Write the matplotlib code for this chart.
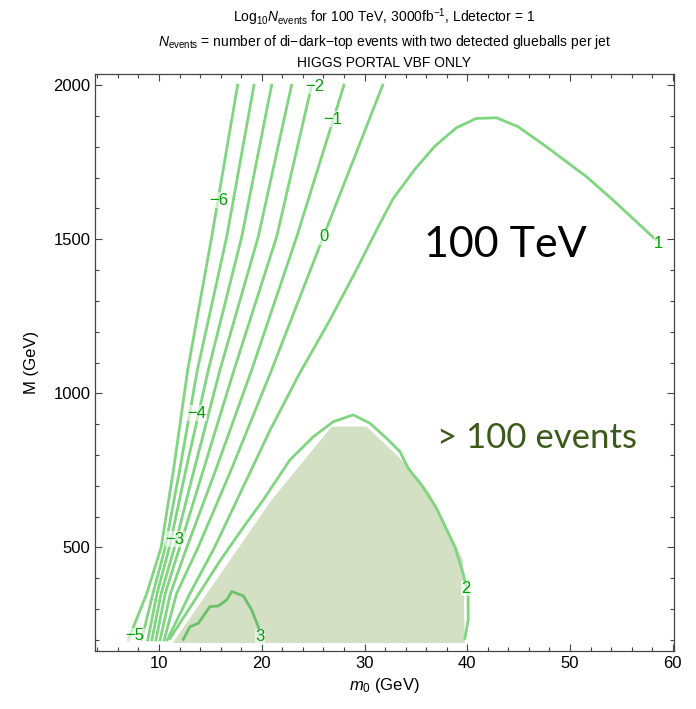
import numpy as np
import matplotlib
matplotlib.use('Agg')
import matplotlib.pyplot as plt
from matplotlib.ticker import MultipleLocator

plt.rcParams['font.family'] = ['Liberation Sans', 'DejaVu Sans']
plt.rcParams['mathtext.fontset'] = 'custom'
plt.rcParams['mathtext.rm'] = 'Liberation Sans'
plt.rcParams['mathtext.it'] = 'Liberation Sans:italic'

# fan of contour lines, sampled at common M levels
M_fan = [200, 350, 500, 750, 1076, 1508, 2000]
line_m6 = [7.0, 8.8, 10.2, 11.4, 12.79, 15.13, 17.65]
line_m5 = [8.3, 9.4, 10.6, 12.0, 13.73, 16.59, 19.24]
line_m4 = [8.9, 9.8, 11.0, 12.6, 14.80, 18.05, 20.96]
line_m3 = [9.3, 10.2, 11.5, 13.4, 15.93, 19.66, 22.90]
line_m2 = [9.7, 10.6, 12.0, 14.3, 17.30, 21.45, 24.86]
line_m1 = [10.1, 11.1, 12.7, 15.5, 19.02, 23.40, 28.00]
line_0 = [10.5, 11.7, 13.8, 17.0, 20.96, 25.99, 31.77]

line1_m0 = [10.8, 13.0, 15.4, 17.9, 20.8, 23.6, 26.5, 29.2, 31.5, 32.79, 34.9, 36.85,
            38.96, 40.9, 42.85, 44.95, 47.71, 51.6, 54.19, 58.4]
line1_M = [200, 350, 500, 676, 880, 1060, 1230, 1400, 1551, 1632, 1727, 1802,
           1862, 1892, 1894, 1865, 1800, 1703, 1627, 1497]

line2_m0 = [11.07, 13.5, 16.0, 18.3, 20.14, 22.74, 25.01, 26.96, 28.9, 30.53,
            32.15, 33.45, 34.25, 35.55, 37.01, 38.79, 39.6, 40.09, 40.09, 39.77]
line2_M = [205, 330, 460, 570, 654, 784, 859, 908, 930, 903,
           854, 811, 757, 703, 627, 502, 416, 340, 265, 205]

line3_m0 = [12.36, 13.02, 13.82, 14.96, 15.77, 16.59, 17.07, 18.2, 19.02, 19.66, 19.75]
line3_M = [202, 243, 254, 308, 310, 330, 357, 343, 297, 243, 215]

# > 100 events region
shade_m0 = [11.33, 20.96, 26.8, 30.2, 33.44, 36.36, 39.6, 39.77]
shade_M = [190, 654, 892, 892, 790, 676, 459, 190]

# contour labels
lab_text = ['\u22126', '\u22125', '\u22124', '\u22123', '\u22122', '\u22121', '0', '1', '2', '3']
lab_m0 = [15.77, 7.67, 13.67, 11.56, 25.17, 26.86, 26.08, 58.64, 39.86, 19.82]
lab_M = [1627, 213, 936, 527, 1995, 1889, 1508, 1487, 367, 210]

fig = plt.figure(figsize=(6.96, 7.09), dpi=100)
ax = fig.add_axes([0.137, 0.0818, 0.831, 0.8138])

ax.fill(shade_m0, shade_M, color='#d3e0c4', lw=0, zorder=1)

lc = '#80d580'
for xs in [line_m6, line_m5, line_m4, line_m3, line_m2, line_m1, line_0]:
    ax.plot(xs, M_fan, color=lc, lw=2.0, zorder=2)
ax.plot(line1_m0, line1_M, color=lc, lw=2.0, zorder=2)
ax.plot(line2_m0, line2_M, color=lc, lw=2.0, zorder=2)
ax.plot(line3_m0, line3_M, color='#6cc06c', lw=2.0, zorder=2)

for t, x, y in zip(lab_text, lab_m0, lab_M):
    ax.text(x, y, t, color='#00a000', fontsize=12, ha='center', va='center', zorder=3,
            bbox=dict(facecolor='white', edgecolor='none', alpha=0.6, pad=0.3))

ax.text(0.726, 0.654, '100 TeV', transform=fig.transFigure, fontsize=31, family='Lato',
        ha='center', va='center')
ax.text(0.772, 0.382, '> 100 events', transform=fig.transFigure, fontsize=25, family='Lato',
        color='#3d5a1c', ha='center', va='center')

ax.set_xlim(3.8, 60.1)
ax.set_ylim(164, 2036)
ax.xaxis.set_major_locator(MultipleLocator(10))
ax.xaxis.set_minor_locator(MultipleLocator(2))
ax.yaxis.set_major_locator(MultipleLocator(500))
ax.yaxis.set_minor_locator(MultipleLocator(100))
ax.tick_params(which='both', direction='in', top=True, right=True, labelsize=12, color='#444444')
ax.tick_params(which='major', length=5, width=0.8)
ax.tick_params(which='minor', length=3, width=0.8)
for s in ax.spines.values():
    s.set_color('#444444')
    s.set_linewidth(0.9)

ax.set_xlabel('$m_0$ (GeV)', fontsize=12, labelpad=4)
ax.set_ylabel('M (GeV)', fontsize=12, labelpad=10)

fig.text(0.552, 1 - 17 / 709, r'Log$_{10}$$N_{\mathrm{events}}$ for 100 TeV, 3000fb$^{-1}$, Ldetector = 1',
         ha='center', va='center', fontsize=10)
fig.text(0.552, 1 - 42 / 709, '$N_{\\mathrm{events}}$ = number of di\u2212dark\u2212top events with two detected glueballs per jet',
         ha='center', va='center', fontsize=10)
fig.text(0.552, 1 - 63 / 709, 'HIGGS PORTAL VBF ONLY', ha='center', va='center', fontsize=10)

fig.savefig('out.png', dpi=100)
